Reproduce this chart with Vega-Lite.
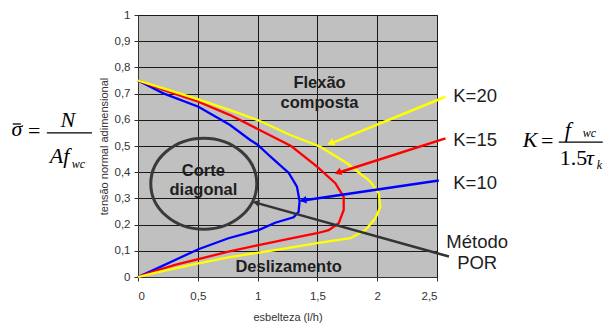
{
  "$schema": "https://vega.github.io/schema/vega-lite/v6.json",
  "width": 299,
  "height": 262,
  "autosize": {"type": "none"},
  "padding": {"left": 138, "top": 15, "right": 167, "bottom": 52},
  "background": "white",
  "config": {
    "view": {"fill": "#c0c0c0", "stroke": "#808080", "strokeWidth": 1},
    "axis": {
      "labelFont": "Liberation Sans", "titleFont": "Liberation Sans",
      "labelColor": "#333", "titleColor": "#333", "labelFontSize": 11.5, "titleFontSize": 11,
      "titleFontWeight": "normal", "grid": true, "gridColor": "#1a1a1a", "gridOpacity": 1, "gridWidth": 1,
      "domainColor": "#333", "tickColor": "#333", "tickSize": 4
    }
  },
  "datasets": {
    "curves": [
      {"K": "K=10", "i": 0, "x": 0, "y": 0.75},
      {"K": "K=10", "i": 1, "x": 0.212, "y": 0.701},
      {"K": "K=10", "i": 2, "x": 0.505, "y": 0.65},
      {"K": "K=10", "i": 3, "x": 0.77, "y": 0.58},
      {"K": "K=10", "i": 4, "x": 0.938, "y": 0.523},
      {"K": "K=10", "i": 5, "x": 1.0, "y": 0.505},
      {"K": "K=10", "i": 6, "x": 1.106, "y": 0.46},
      {"K": "K=10", "i": 7, "x": 1.18, "y": 0.43},
      {"K": "K=10", "i": 8, "x": 1.259, "y": 0.398},
      {"K": "K=10", "i": 9, "x": 1.329, "y": 0.345},
      {"K": "K=10", "i": 10, "x": 1.351, "y": 0.29},
      {"K": "K=10", "i": 11, "x": 1.343, "y": 0.249},
      {"K": "K=10", "i": 12, "x": 1.301, "y": 0.228},
      {"K": "K=10", "i": 13, "x": 1.147, "y": 0.207},
      {"K": "K=10", "i": 14, "x": 1.008, "y": 0.179},
      {"K": "K=10", "i": 15, "x": 0.756, "y": 0.148},
      {"K": "K=10", "i": 16, "x": 0.505, "y": 0.106},
      {"K": "K=10", "i": 17, "x": 0.31, "y": 0.065},
      {"K": "K=10", "i": 18, "x": 0.142, "y": 0.029},
      {"K": "K=10", "i": 19, "x": 0, "y": 0},
      {"K": "K=15", "i": 0, "x": 0, "y": 0.75},
      {"K": "K=15", "i": 1, "x": 0.212, "y": 0.714},
      {"K": "K=15", "i": 2, "x": 0.505, "y": 0.669},
      {"K": "K=15", "i": 3, "x": 0.77, "y": 0.618},
      {"K": "K=15", "i": 4, "x": 1.0, "y": 0.565},
      {"K": "K=15", "i": 5, "x": 1.28, "y": 0.5},
      {"K": "K=15", "i": 6, "x": 1.497, "y": 0.421},
      {"K": "K=15", "i": 7, "x": 1.65, "y": 0.358},
      {"K": "K=15", "i": 8, "x": 1.72, "y": 0.306},
      {"K": "K=15", "i": 9, "x": 1.72, "y": 0.256},
      {"K": "K=15", "i": 10, "x": 1.678, "y": 0.205},
      {"K": "K=15", "i": 11, "x": 1.594, "y": 0.179},
      {"K": "K=15", "i": 12, "x": 1.497, "y": 0.167},
      {"K": "K=15", "i": 13, "x": 1.25, "y": 0.145},
      {"K": "K=15", "i": 14, "x": 1.008, "y": 0.122},
      {"K": "K=15", "i": 15, "x": 0.756, "y": 0.097},
      {"K": "K=15", "i": 16, "x": 0.505, "y": 0.068},
      {"K": "K=15", "i": 17, "x": 0.31, "y": 0.046},
      {"K": "K=15", "i": 18, "x": 0.142, "y": 0.023},
      {"K": "K=15", "i": 19, "x": 0, "y": 0},
      {"K": "K=20", "i": 0, "x": 0, "y": 0.75},
      {"K": "K=20", "i": 1, "x": 0.212, "y": 0.72},
      {"K": "K=20", "i": 2, "x": 0.505, "y": 0.678},
      {"K": "K=20", "i": 3, "x": 0.77, "y": 0.637},
      {"K": "K=20", "i": 4, "x": 1.0, "y": 0.599},
      {"K": "K=20", "i": 5, "x": 1.273, "y": 0.542},
      {"K": "K=20", "i": 6, "x": 1.524, "y": 0.497},
      {"K": "K=20", "i": 7, "x": 1.748, "y": 0.434},
      {"K": "K=20", "i": 8, "x": 1.943, "y": 0.364},
      {"K": "K=20", "i": 9, "x": 2.013, "y": 0.319},
      {"K": "K=20", "i": 10, "x": 2.027, "y": 0.268},
      {"K": "K=20", "i": 11, "x": 1.985, "y": 0.224},
      {"K": "K=20", "i": 12, "x": 1.901, "y": 0.179},
      {"K": "K=20", "i": 13, "x": 1.776, "y": 0.148},
      {"K": "K=20", "i": 14, "x": 1.497, "y": 0.129},
      {"K": "K=20", "i": 15, "x": 1.147, "y": 0.103},
      {"K": "K=20", "i": 16, "x": 1.008, "y": 0.093},
      {"K": "K=20", "i": 17, "x": 0.756, "y": 0.075},
      {"K": "K=20", "i": 18, "x": 0.505, "y": 0.052},
      {"K": "K=20", "i": 19, "x": 0.31, "y": 0.033},
      {"K": "K=20", "i": 20, "x": 0.142, "y": 0.016},
      {"K": "K=20", "i": 21, "x": 0, "y": 0}
    ],
    "arrows": [
      {"K": "K=20", "x": 2.571, "y": 0.688, "x2": 1.6, "y2": 0.507},
      {"K": "K=15", "x": 2.571, "y": 0.529, "x2": 1.66, "y2": 0.396},
      {"K": "K=10", "x": 2.515, "y": 0.368, "x2": 1.365, "y2": 0.291},
      {"K": "POR", "x": 2.6, "y": 0.078, "x2": 0.975, "y2": 0.285}
    ],
    "heads": [
      {"K": "K=20", "x": 1.61, "y": 0.511},
      {"K": "K=15", "x": 1.671, "y": 0.399},
      {"K": "K=10", "x": 1.38, "y": 0.293},
      {"K": "POR", "x": 0.988, "y": 0.284}
    ],
    "regions": [
      {"t": "Flexão", "x": 1.518, "y": 0.72},
      {"t": "composta", "x": 1.518, "y": 0.644},
      {"t": "Corte", "x": 0.547, "y": 0.385},
      {"t": "diagonal", "x": 0.547, "y": 0.313},
      {"t": "Deslizamento", "x": 1.259, "y": 0.02}
    ],
    "klabels": [
      {"t": "K=20", "x": 2.636, "y": 0.669},
      {"t": "K=15", "x": 2.636, "y": 0.501},
      {"t": "K=10", "x": 2.636, "y": 0.335}
    ],
    "por": [
      {"t": "Método", "x": 2.836, "y": 0.11},
      {"t": "POR", "x": 2.836, "y": 0.029}
    ],
    "ellipse": [{"x": 0.55, "y": 0.356}],
    "mathBig": [
      {"t": "σ", "x": -1.013, "y": 0.538},
      {"t": "N", "x": -0.586, "y": 0.573},
      {"t": "K", "x": 3.279, "y": 0.496},
      {"t": "f", "x": 3.593, "y": 0.534}
    ],
    "mathLeft": [
      {"t": "Af", "x": -0.737, "y": 0.435},
      {"t": "τ", "x": 3.745, "y": 0.427}
    ],
    "mathUpright": [
      {"t": "=", "x": -0.867, "y": 0.531},
      {"t": "=", "x": 3.421, "y": 0.492}
    ],
    "mathNum": [
      {"t": "1.5", "x": 3.526, "y": 0.427}
    ],
    "mathSub": [
      {"t": "wc", "x": -0.553, "y": 0.416},
      {"t": "wc", "x": 3.719, "y": 0.534},
      {"t": "k", "x": 3.836, "y": 0.412}
    ],
    "bars": [
      {"x": -1.047, "x2": -0.98, "y": 0.584},
      {"x": -0.762, "x2": -0.385, "y": 0.55},
      {"x": 3.518, "x2": 3.886, "y": 0.515}
    ]
  },
  "encoding": {
    "x": {"field": "x", "type": "quantitative", "scale": {"domain": [0, 2.5], "nice": false, "zero": false},
      "axis": {"values": [0, 0.5, 1, 1.5, 2, 2.5], "title": "esbelteza (l/h)", "labelPadding": 9, "titlePadding": 10,
        "labelExpr": "replace(toString(datum.value), '.', ',')"}},
    "y": {"field": "y", "type": "quantitative", "scale": {"domain": [0, 1], "nice": false, "zero": false},
      "axis": {"values": [0, 0.1, 0.2, 0.3, 0.4, 0.5, 0.6, 0.7, 0.8, 0.9, 1], "title": "tensão normal adimensional", "labelPadding": 4, "titlePadding": 5,
        "labelExpr": "replace(toString(datum.value), '.', ',')"}}
  },
  "layer": [
    {
      "data": {"name": "curves"},
      "mark": {"type": "line", "strokeWidth": 2.3, "clip": false},
      "encoding": {
        "color": {"field": "K", "type": "nominal", "scale": {"domain": ["K=10", "K=15", "K=20", "POR"], "range": ["#0000ff", "#ff0000", "#ffff00", "#333333"]}, "legend": null},
        "order": {"field": "i", "type": "quantitative"}
      }
    },
    {
      "data": {"name": "ellipse"},
      "mark": {"type": "point", "shape": "M-1,0A1,0.86,0,1,1,1,0A1,0.86,0,1,1,-1,0Z", "size": 11236, "filled": false, "stroke": "#3a3a3a", "strokeWidth": 3, "opacity": 1, "clip": false}
    },
    {
      "data": {"name": "arrows"},
      "mark": {"type": "rule", "strokeWidth": 2.5, "clip": false},
      "encoding": {
        "x2": {"field": "x2"},
        "y2": {"field": "y2"},
        "color": {"field": "K", "type": "nominal", "legend": null}
      }
    },
    {
      "data": {"name": "heads"},
      "transform": [{"filter": "datum.K === 'K=20'"}],
      "mark": {"type": "point", "shape": "triangle-right", "angle": 158, "size": 60, "filled": true, "opacity": 1, "clip": false},
      "encoding": {"color": {"field": "K", "type": "nominal", "legend": null}}
    },
    {
      "data": {"name": "heads"},
      "transform": [{"filter": "datum.K === 'K=15'"}],
      "mark": {"type": "point", "shape": "triangle-right", "angle": 162, "size": 60, "filled": true, "opacity": 1, "clip": false},
      "encoding": {"color": {"field": "K", "type": "nominal", "legend": null}}
    },
    {
      "data": {"name": "heads"},
      "transform": [{"filter": "datum.K === 'K=10'"}],
      "mark": {"type": "point", "shape": "triangle-right", "angle": 172, "size": 60, "filled": true, "opacity": 1, "clip": false},
      "encoding": {"color": {"field": "K", "type": "nominal", "legend": null}}
    },
    {
      "data": {"name": "heads"},
      "transform": [{"filter": "datum.K === 'POR'"}],
      "mark": {"type": "point", "shape": "triangle-right", "angle": 196, "size": 50, "filled": true, "opacity": 1, "clip": false},
      "encoding": {"color": {"field": "K", "type": "nominal", "legend": null}}
    },
    {
      "data": {"name": "regions"},
      "mark": {"type": "text", "font": "Liberation Sans", "fontWeight": "bold", "fontSize": 16.5, "color": "#1e1e1e", "align": "center", "baseline": "alphabetic"},
      "encoding": {"text": {"field": "t"}}
    },
    {
      "data": {"name": "klabels"},
      "mark": {"type": "text", "font": "Liberation Sans", "fontSize": 18.5, "color": "#1e1e1e", "align": "left", "baseline": "alphabetic"},
      "encoding": {"text": {"field": "t"}}
    },
    {
      "data": {"name": "por"},
      "mark": {"type": "text", "font": "Liberation Sans", "fontSize": 18.5, "color": "#1e1e1e", "align": "center", "baseline": "alphabetic"},
      "encoding": {"text": {"field": "t"}}
    },
    {
      "data": {"name": "mathBig"},
      "mark": {"type": "text", "font": "Liberation Serif", "fontStyle": "italic", "fontSize": 22, "color": "#000", "align": "center", "baseline": "alphabetic"},
      "encoding": {"text": {"field": "t"}}
    },
    {
      "data": {"name": "mathLeft"},
      "mark": {"type": "text", "font": "Liberation Serif", "fontStyle": "italic", "fontSize": 22, "color": "#000", "align": "left", "baseline": "alphabetic"},
      "encoding": {"text": {"field": "t"}}
    },
    {
      "data": {"name": "mathUpright"},
      "mark": {"type": "text", "font": "Liberation Serif", "fontSize": 22, "color": "#000", "align": "center", "baseline": "alphabetic"},
      "encoding": {"text": {"field": "t"}}
    },
    {
      "data": {"name": "mathNum"},
      "mark": {"type": "text", "font": "Liberation Serif", "fontSize": 22, "color": "#000", "align": "left", "baseline": "alphabetic"},
      "encoding": {"text": {"field": "t"}}
    },
    {
      "data": {"name": "mathSub"},
      "mark": {"type": "text", "font": "Liberation Serif", "fontStyle": "italic", "fontSize": 12, "color": "#000", "align": "left", "baseline": "alphabetic"},
      "encoding": {"text": {"field": "t"}}
    },
    {
      "data": {"name": "bars"},
      "mark": {"type": "rule", "strokeWidth": 1.3, "color": "#000", "clip": false},
      "encoding": {"x2": {"field": "x2"}}
    }
  ]
}
